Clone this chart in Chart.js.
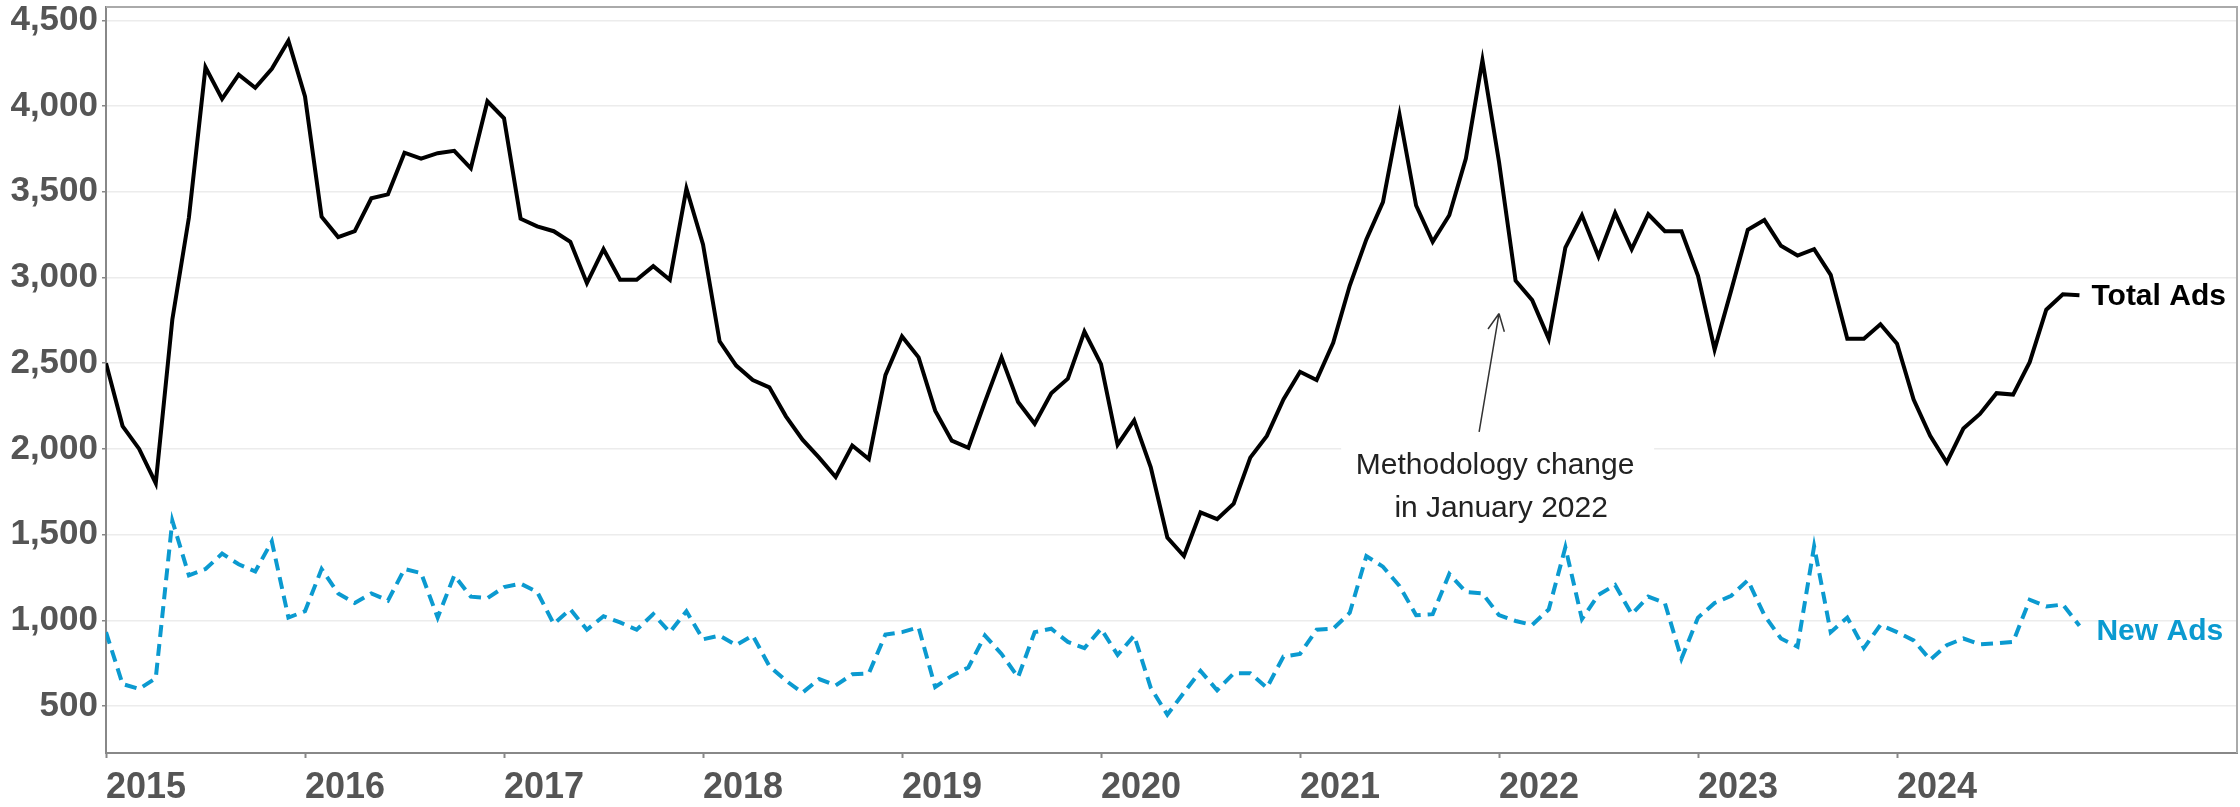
<!DOCTYPE html>
<html>
<head>
<meta charset="utf-8">
<title>Total and new ads</title>
<script src="https://cdn.jsdelivr.net/npm/chart.js@4.4.1/dist/chart.umd.min.js"></script>
<style>
    html, body { margin: 0; padding: 0; background: #fff; }
    #wrap { width: 2240px; height: 807px; }
</style>
</head>
<body>
<div id="wrap"><canvas id="adsChart" width="2240" height="807"></canvas></div>
<script>
const AXIS_GREY = '#888';
const LABEL_GREY = '#555';
const BLUE = '#0b9ad0';
const FONT = '"Liberation Sans", Arial, sans-serif';

const START_YEAR = 2015;
const YEARS = [2015, 2016, 2017, 2018, 2019, 2020, 2021, 2022, 2023, 2024];
const Y_TICKS = [500, 1000, 1500, 2000, 2500, 3000, 3500, 4000, 4500];

// monthly values, Jan 2015 .. Dec 2024
const TOTAL_ADS = [
    2500, 2133, 2000, 1800, 2755, 3350, 4226, 4042, 4183, 4107, 4217, 4381,
    4056, 3355, 3236, 3270, 3462, 3485, 3728, 3694, 3725, 3739, 3637, 4028,
    3929, 3343, 3298, 3270, 3208, 2967, 3165, 2987, 2987, 3066, 2987, 3519,
    3193, 2628, 2486, 2402, 2359, 2190, 2054, 1949, 1836, 2020, 1941, 2430,
    2656, 2534, 2223, 2048, 2006, 2274, 2534, 2274, 2147, 2325, 2410, 2684,
    2495, 2025, 2167, 1893, 1483, 1375, 1630, 1590, 1681, 1949, 2076, 2288,
    2450, 2402, 2619, 2953, 3222, 3440, 3949, 3420, 3208, 3363, 3694, 4268,
    3674, 2981, 2868, 2642, 3174, 3363, 3123, 3377, 3165, 3369, 3270, 3270,
    3010, 2580, 2925, 3278, 3335, 3185, 3128, 3165, 3015, 2642, 2642, 2727,
    2614, 2288, 2076, 1921, 2119, 2204, 2325, 2317, 2506, 2812, 2902, 2897
];

const NEW_ADS = [
    931, 628, 600, 662, 1581, 1262, 1299, 1389, 1327, 1285, 1460, 1016,
    1053, 1299, 1157, 1101, 1157, 1115, 1299, 1276, 1016, 1262, 1138, 1129,
    1194, 1214, 1166, 979, 1064, 945, 1024, 988, 945, 1036, 931, 1053,
    889, 911, 855, 911, 733, 648, 578, 657, 620, 685, 691, 917,
    931, 959, 611, 676, 725, 911, 804, 668, 931, 951, 874, 838,
    951, 798, 911, 606, 450, 578, 705, 592, 691, 691, 606, 789,
    804, 945, 951, 1044, 1375, 1313, 1200, 1030, 1036, 1271, 1166, 1157,
    1030, 996, 973, 1064, 1426, 1007, 1149, 1206, 1036, 1138, 1101, 776,
    1016, 1101, 1143, 1234, 1030, 894, 846, 1432, 931, 1016, 838, 973,
    931, 883, 770, 855, 894, 860, 866, 874, 1120, 1081, 1092, 968
];

const MONTH_NAMES = ['Jan', 'Feb', 'Mar', 'Apr', 'May', 'Jun', 'Jul', 'Aug', 'Sep', 'Oct', 'Nov', 'Dec'];
const MONTHS = TOTAL_ADS.map((_, i) => MONTH_NAMES[i % 12] + ' ' + (START_YEAR + Math.floor(i / 12)));

// annotation: arrow points at January 2022
const NOTE_LINES = ['Methodology change', 'in January 2022'];
const NOTE_MONTH = MONTHS.indexOf('Jan 2022');
const NOTE_TIP = 2790;
const NOTE_TAIL = 2100;

Chart.defaults.font.family = FONT;

function toPoints(values) {
    return values.map((v, i) => ({ x: i, y: v }));
}

var noteBox = {
    id: 'noteBox',
    beforeDatasetsDraw(chart) {
        const { ctx, scales: { x, y } } = chart;
        const tx = x.getPixelForValue(NOTE_MONTH - 1.2);
        const ty = y.getPixelForValue(NOTE_TAIL);
        ctx.save();
        ctx.fillStyle = '#fff';
        ctx.fillRect(tx - 138, ty + 8, 313, 88);
        ctx.restore();
    },
    afterDatasetsDraw(chart) {
        const { ctx, scales: { x, y } } = chart;
        const tipX = x.getPixelForValue(NOTE_MONTH);
        const tipY = y.getPixelForValue(NOTE_TIP);
        const tailX = x.getPixelForValue(NOTE_MONTH - 1.2);
        const tailY = y.getPixelForValue(NOTE_TAIL);

        ctx.save();
        ctx.strokeStyle = '#333';
        ctx.lineWidth = 1.5;
        ctx.beginPath();
        ctx.moveTo(tailX, tailY);
        ctx.lineTo(tipX, tipY);
        const ang = Math.atan2(tailY - tipY, tailX - tipX);
        [-0.45, 0.45].forEach(d => {
            ctx.moveTo(tipX, tipY);
            ctx.lineTo(tipX + 19 * Math.cos(ang + d), tipY + 19 * Math.sin(ang + d));
        });
        ctx.stroke();

        ctx.fillStyle = '#222';
        ctx.font = '30px ' + FONT;
        ctx.textAlign = 'center';
        ctx.textBaseline = 'middle';
        ctx.fillText(NOTE_LINES[0], tailX + 16, tailY + 34);
        ctx.fillText(NOTE_LINES[1], tailX + 22, tailY + 77);
        ctx.restore();
    }
};

var endLabels = {
    id: 'endLabels',
    afterDatasetsDraw(chart) {
        const ctx = chart.ctx;
        chart.data.datasets.forEach((ds, i) => {
            const pts = chart.getDatasetMeta(i).data;
            const last = pts[pts.length - 1];
            ctx.save();
            ctx.font = 'bold 30px ' + FONT;
            ctx.fillStyle = ds.borderColor;
            ctx.textBaseline = 'middle';
            ctx.fillText(ds.label, last.x + ds.labelDx, last.y + ds.labelDy);
            ctx.restore();
        });
    }
};

var plotFrame = {
    id: 'plotFrame',
    afterDraw(chart) {
        const { ctx, chartArea: a } = chart;
        ctx.save();
        ctx.strokeStyle = '#aaa';
        ctx.lineWidth = 2;
        ctx.beginPath();
        ctx.moveTo(a.left, a.top);
        ctx.lineTo(a.right, a.top);
        ctx.lineTo(a.right, a.bottom);
        ctx.stroke();
        ctx.restore();
    }
};

var dataAds = {
    labels: MONTHS,
    datasets: [
        {
            label: 'Total Ads',
            data: toPoints(TOTAL_ADS),
            borderColor: '#000',
            borderWidth: 4,
            labelDx: 12,
            labelDy: 2,
        },
        {
            label: 'New Ads',
            data: toPoints(NEW_ADS),
            borderColor: BLUE,
            borderWidth: 4,
            borderDash: [12, 7],
            labelDx: 17,
            labelDy: 6,
        }
    ]
};

var configAds = {
    type: 'line',
    data: dataAds,
    options: {
        responsive: false,
        animation: false,
        devicePixelRatio: 1,
        layout: { padding: { top: 7, right: 3, left: 0, bottom: 0 } },
        elements: {
            point: { radius: 0 },
            line: { tension: 0, fill: false }
        },
        plugins: {
            legend: { display: false },
            tooltip: { enabled: false },
        },
        scales: {
            x: {
                type: 'linear',
                min: 0,
                max: 128.5,
                afterBuildTicks: s => { s.ticks = YEARS.map(y => ({ value: (y - START_YEAR) * 12 })); },
                afterFit: s => { s.height = 54; s.paddingLeft = 0; s.paddingRight = 0; },
                grid: { drawOnChartArea: false, tickLength: 5, tickColor: AXIS_GREY, tickWidth: 2 },
                border: { color: AXIS_GREY, width: 2 },
                ticks: {
                    align: 'start',
                    padding: 8,
                    maxRotation: 0,
                    autoSkip: false,
                    color: LABEL_GREY,
                    font: { size: 36, weight: 'bold' },
                    callback: v => String(START_YEAR + v / 12),
                }
            },
            y: {
                min: 226,
                max: 4578,
                afterBuildTicks: s => { s.ticks = Y_TICKS.map(v => ({ value: v })); },
                afterFit: s => { s.width = 106; s.paddingTop = 0; s.paddingBottom = 0; },
                grid: { color: '#ececec', lineWidth: 1.5, tickLength: 4, tickColor: AXIS_GREY },
                border: { color: AXIS_GREY, width: 2 },
                ticks: {
                    padding: 4,
                    color: LABEL_GREY,
                    font: { size: 35, weight: 'bold' },
                    callback: v => v.toLocaleString('en-US'),
                }
            }
        }
    },
    plugins: [noteBox, endLabels, plotFrame]
};

new Chart(
    document.getElementById('adsChart'),
    configAds,
);
</script>
</body>
</html>
